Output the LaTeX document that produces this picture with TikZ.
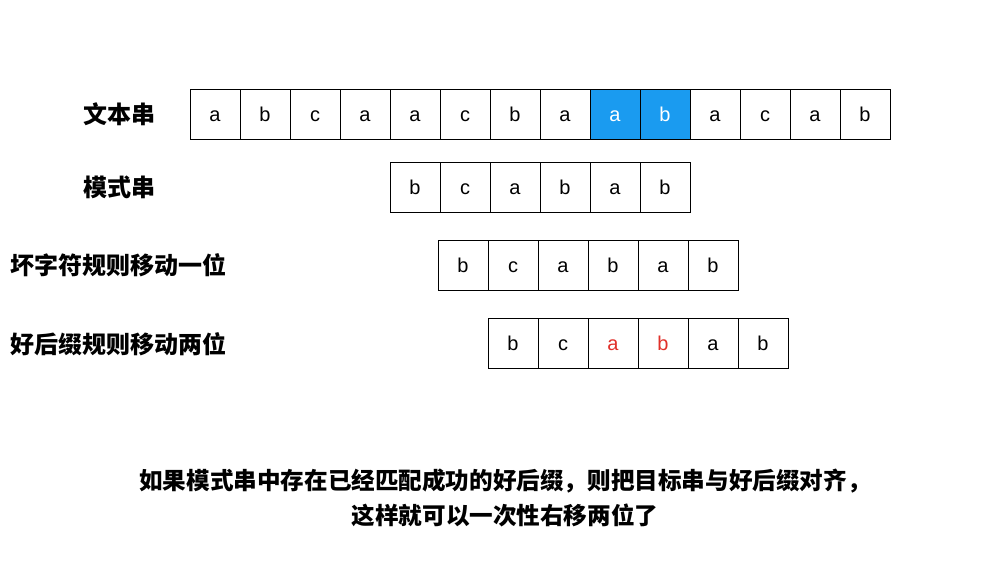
\documentclass[tikz,border=0pt]{standalone}
\usepackage{fontspec}
\setmainfont{Liberation Sans}
\newfontfamily\cjk{Noto Sans CJK SC}
\definecolor{hlblue}{HTML}{1A9BF0}
\definecolor{hlred}{HTML}{E0302A}
\tikzset{
  cell/.style={draw=black, line width=0.9pt, minimum width=50pt, minimum height=50pt, inner sep=0pt, font=\fontsize{20}{20}\selectfont, text height=13pt, text depth=0pt},
  hicell/.style={cell, fill=hlblue, text=white},
  redcell/.style={cell, text=hlred},
  lbl/.style={anchor=west, inner sep=0pt, font=\cjk\bfseries\fontsize{24}{28}\selectfont},
  note/.style={align=center, inner sep=0pt, font=\cjk\bfseries\fontsize{23.6}{35}\selectfont}
}
\begin{document}
\begin{tikzpicture}[x=1pt,y=-1pt]
\useasboundingbox (0,0) rectangle (1005,565);
% text row
\foreach \c [count=\i] in {a,b,c,a,a,c,b,a,a,b,a,c,a,b}{
  \ifnum\i=9 \node[hicell] (t\i) at ({165+50*\i},114.5) {\c};
  \else\ifnum\i=10 \node[hicell] (t\i) at ({165+50*\i},114.5) {\c};
  \else \node[cell] (t\i) at ({165+50*\i},114.5) {\c};\fi\fi
}
% pattern row
\foreach \c [count=\i] in {b,c,a,b,a,b}{
  \node[cell] (p\i) at ({365+50*\i},187.5) {\c};
}
% bad character shift
\foreach \c [count=\i] in {b,c,a,b,a,b}{
  \node[cell] (b\i) at ({413+50*\i},265.5) {\c};
}
% good suffix shift
\foreach \c [count=\i] in {b,c,a,b,a,b}{
  \ifnum\i=3 \node[redcell] (g\i) at ({463+50*\i},343.5) {\c};
  \else\ifnum\i=4 \node[redcell] (g\i) at ({463+50*\i},343.5) {\c};
  \else \node[cell] (g\i) at ({463+50*\i},343.5) {\c};\fi\fi
}
\node[lbl] (l1) at (83,114) {文本串};
\node[lbl] (l2) at (83,187) {模式串};
\node[lbl] (l3) at (10,265) {坏字符规则移动一位};
\node[lbl] (l4) at (10,344) {好后缀规则移动两位};
\node[note] (n) at (505,498) {如果模式串中存在已经匹配成功的好后缀，则把目标串与好后缀对齐，\\这样就可以一次性右移两位了};
\end{tikzpicture}
\end{document}
